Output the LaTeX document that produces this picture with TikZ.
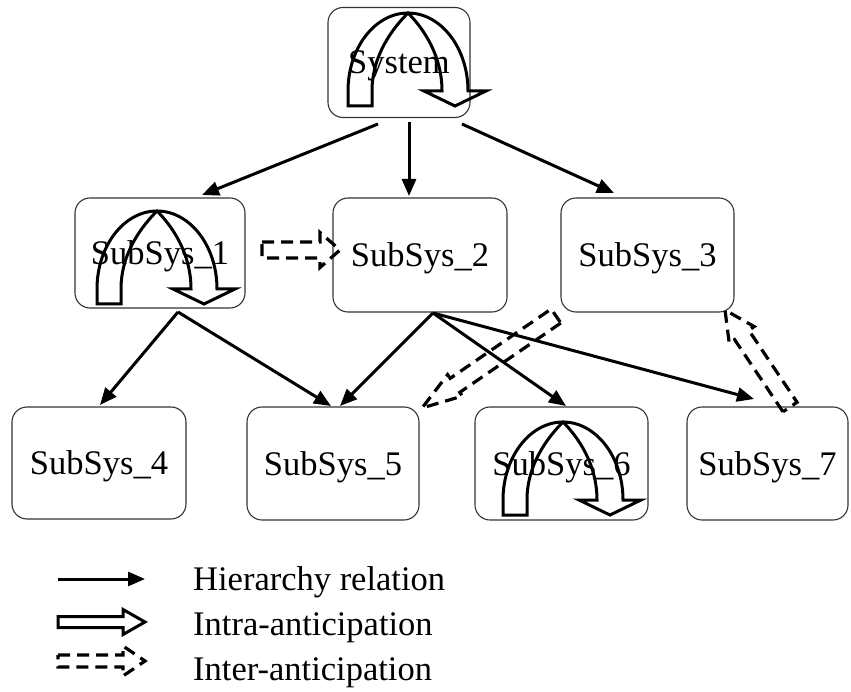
\documentclass[tikz,border=0pt]{standalone}
\usepackage{fontspec}
\setmainfont{Liberation Serif}
\usetikzlibrary{arrows.meta,calc}
\tikzset{
  box/.style={draw=black!80, line width=1.1pt, rounded corners=15pt, inner sep=0pt,
    text depth=0pt, font=\fontsize{34.5}{40}\selectfont},
  hier/.style={line width=3pt, -{Triangle[length=17pt,width=14pt]}},
  fatline/.style={line width=3pt, line join=miter},
  fatdash/.style={line width=3.2pt, line join=miter, dash pattern=on 12pt off 7pt},
  legtext/.style={anchor=base west, inner sep=0pt, font=\fontsize{34.5}{40}\selectfont},
  intra/.pic={
    \draw[fatline] (-57,93) -- (-57,78)
      .. controls (-57,35) and (-30,0) .. (3,0)
      .. controls (36,0) and (63,35) .. (63,78)
      -- (81,78) -- (50,93) -- (19,78) -- (37,78)
      .. controls (37,42) and (18,15) .. (3,0)
      .. controls (-12,15) and (-33,42) .. (-33,78)
      -- (-33,93) -- cycle;
  }
}
% #1 tail, #2 tip, #3 shaft half width, #4 head half width, #5 head length, #6 style
\newcommand\fatarrow[6]{%
  \coordinate (fa-c) at ($(#2)!#5!(#1)$);
  \draw[#6] ($(#1)!#3!90:(#2)$) -- ($(fa-c)!#3!90:(#2)$) -- ($(fa-c)!#4!90:(#2)$)
    -- (#2) -- ($(fa-c)!#4!-90:(#2)$) -- ($(fa-c)!#3!-90:(#2)$)
    -- ($(#1)!#3!-90:(#2)$) -- cycle;}
\begin{document}
\begin{tikzpicture}[x=1pt,y=-1pt]
\useasboundingbox (0,0) rectangle (851,692);

% boxes
\node[box, minimum width=142pt, minimum height=110pt] (sys) at (399,62.5) {System};
\node[box, minimum width=170pt, minimum height=110pt] (s1) at (160,253) {SubSys\_1};
\node[box, minimum width=174pt, minimum height=114pt] (s2) at (420,255) {SubSys\_2};
\node[box, minimum width=173pt, minimum height=114pt] (s3) at (647.5,255) {SubSys\_3};
\node[box, minimum width=174pt, minimum height=112pt] (s4) at (99,463) {SubSys\_4};
\node[box, minimum width=172pt, minimum height=113pt] (s5) at (333,463.5) {SubSys\_5};
\node[box, minimum width=173pt, minimum height=113pt] (s6) at (561.5,463.5) {SubSys\_6};
\node[box, minimum width=161pt, minimum height=113pt] (s7) at (767.5,463.5) {SubSys\_7};

% intra-anticipation arches
\pic at (405,13) {intra};
\pic at (154,211) {intra};
\pic at (560,422) {intra};

% hierarchy relations
\coordinate (sysA) at (378,124);
\coordinate (sysB) at (409,122);
\coordinate (sysC) at (462,124);
\coordinate (s1in) at (202,195);
\coordinate (s2in) at (409,196);
\coordinate (s3in) at (614,193);
\coordinate (s1out) at (178,312);
\coordinate (s2out) at (433,313);
\coordinate (s4in) at (100,405);
\coordinate (s5inA) at (331,406);
\coordinate (s5inB) at (340,406);
\coordinate (s6in) at (566,406);
\coordinate (s7in) at (754,399);
\draw[hier] (sysA) -- (s1in);
\draw[hier] (sysB) -- (s2in);
\draw[hier] (sysC) -- (s3in);
\draw[hier] (s1out) -- (s4in);
\draw[hier] (s1out) -- (s5inA);
\draw[hier] (s2out) -- (s5inB);
\draw[hier] (s2out) -- (s6in);
\draw[hier] (s2out) -- (s7in);

% inter-anticipation
\coordinate (i1t) at (262,250);
\coordinate (i1h) at (340,250);
\fatarrow{i1t}{i1h}{8pt}{17.5pt}{20pt}{fatdash}
\coordinate (i2t) at (556,316);
\coordinate (i2h) at (422,408);
\fatarrow{i2t}{i2h}{8.5pt}{13pt}{40pt}{fatdash}
\coordinate (i3t) at (790,407);
\coordinate (i3h) at (725,310);
\fatarrow{i3t}{i3h}{8.5pt}{15pt}{30pt}{fatdash}

% legend
\coordinate (la) at (58,579);
\coordinate (lb) at (145,579);
\draw[hier] (la) -- (lb);
\coordinate (lc) at (58,622);
\coordinate (ld) at (145,622);
\fatarrow{lc}{ld}{5.5pt}{12.5pt}{22pt}{fatline}
\coordinate (le) at (58,661);
\coordinate (lf) at (145,661);
\fatarrow{le}{lf}{6pt}{15pt}{22pt}{fatdash}
\node[legtext] (t1) at (193,590) {Hierarchy relation};
\node[legtext] (t2) at (193,635) {Intra-anticipation};
\node[legtext] (t3) at (193,680) {Inter-anticipation};
\end{tikzpicture}
\end{document}
